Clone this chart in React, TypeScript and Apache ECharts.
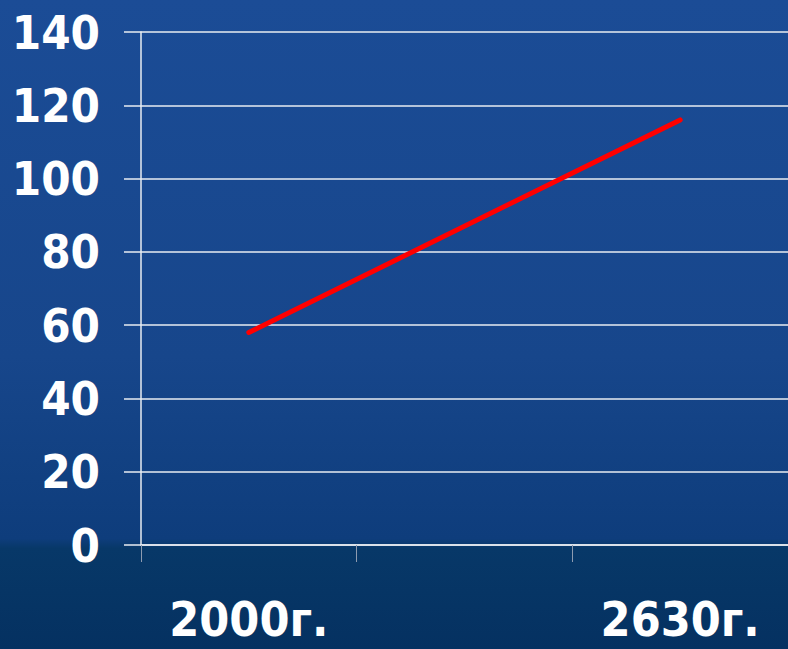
import React, { useEffect, useRef } from "react";
import * as echarts from "echarts";

const categories = ["2000г.", "", "2630г."];
const values: (number | null)[] = [58, null, 116];
const yMin = 0;
const yMax = 140;
const yInterval = 20;

export default function App() {
  const ref = useRef<HTMLDivElement>(null);
  useEffect(() => {
    document.body.style.margin = "0";
    const chart = echarts.init(ref.current!, undefined, { renderer: "svg" });
    const font = "'DejaVu Sans Condensed', 'DejaVu Sans', sans-serif";
    chart.setOption({
      animation: false,
      backgroundColor: new echarts.graphic.LinearGradient(0, 0, 0, 1, [
        { offset: 0, color: "#1b4c96" },
        { offset: 0.55, color: "#17468b" },
        { offset: 0.83, color: "#0e3d7c" },
        { offset: 0.845, color: "#073868" },
        { offset: 1, color: "#053161" },
      ]),
      grid: { left: 141, right: -2, top: 32, bottom: 104, containLabel: false },
      xAxis: {
        type: "category",
        data: categories,
        boundaryGap: true,
        axisLine: { show: true, lineStyle: { color: "#e8ecf2", width: 1.5 } },
        axisTick: { show: true, length: 17, lineStyle: { color: "#8d9bb0", width: 1 } },
        axisLabel: {
          color: "#ffffff",
          fontFamily: font,
          fontWeight: "bold",
          fontSize: 48,
          margin: 50,
          interval: 0,
        },
      },
      yAxis: {
        type: "value",
        min: yMin,
        max: yMax,
        interval: yInterval,
        axisLine: { show: true, lineStyle: { color: "#e8ecf2", width: 1.5 } },
        axisTick: { show: true, length: 17, lineStyle: { color: "#e8ecf2", width: 1.5 } },
        splitLine: { show: true, lineStyle: { color: "#e8ecf2", width: 1.5 } },
        axisLabel: {
          color: "#ffffff",
          fontFamily: font,
          fontWeight: "bold",
          fontSize: 47,
          margin: 41,
        },
      },
      series: [
        {
          type: "line",
          data: values,
          connectNulls: true,
          symbol: "none",
          lineStyle: { color: "#ff0000", width: 5, cap: "round" },
        },
      ],
    });
    return () => chart.dispose();
  }, []);
  return <div ref={ref} style={{ width: 788, height: 649, position: "absolute", left: 0, top: 0 }} />;
}
